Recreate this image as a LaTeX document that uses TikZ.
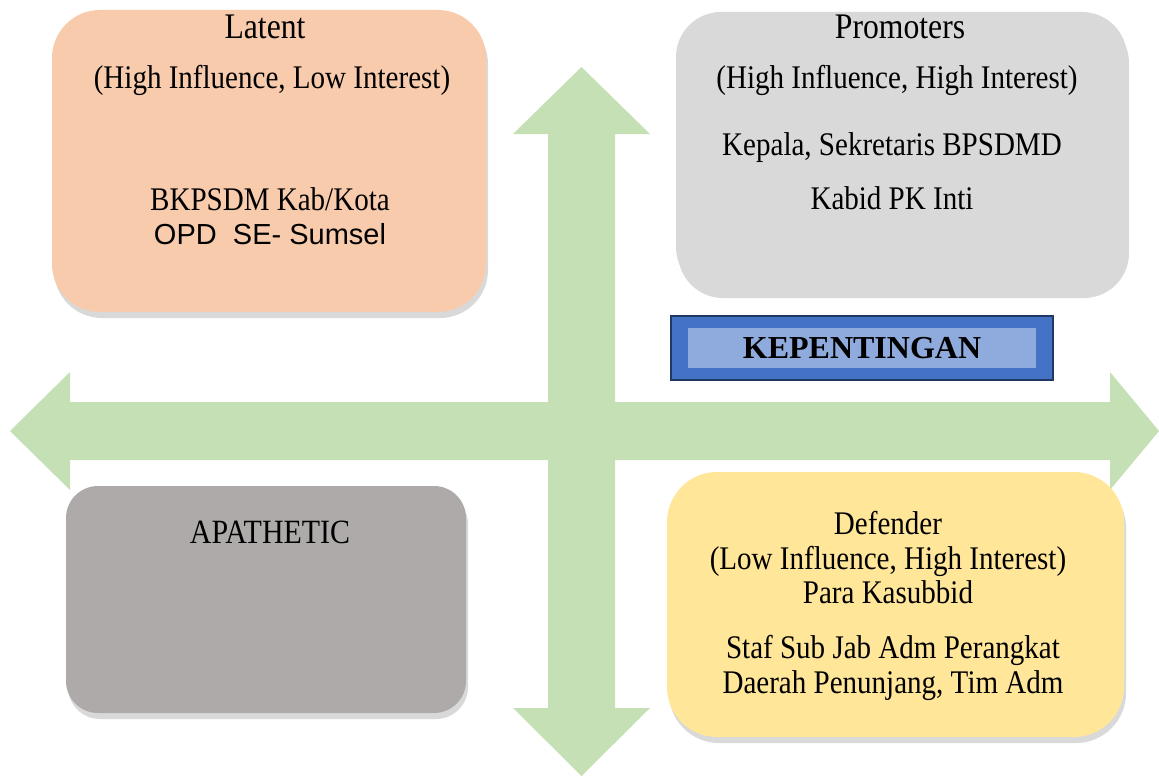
\documentclass[tikz,border=0pt]{standalone}
\usepackage{fontspec}
\setmainfont[FakeStretch=0.88]{Liberation Serif}
\newfontfamily\plainserif{Liberation Serif}
\newfontfamily\arialfont{Liberation Sans}
\usepackage{tikz}
\usetikzlibrary{positioning, shadows}
\definecolor{latentorange}{RGB}{248, 203, 173}
\definecolor{promotergray}{RGB}{217, 217, 217}
\definecolor{apathygray}{RGB}{174, 170, 170}
\definecolor{defenderyellow}{RGB}{255, 230, 153}
\definecolor{arrowgreen}{RGB}{197, 224, 180}
\definecolor{kepblue}{RGB}{68, 114, 196}
\definecolor{kepdark}{RGB}{32, 56, 100}
\definecolor{keplight}{RGB}{143, 170, 220}

\begin{document}
\begin{tikzpicture}[x=1pt, y=-1pt,
    quad/.style={rounded corners=#1, inner sep=0pt, drop shadow={opacity=0.3, shadow xshift=2pt, shadow yshift=-6pt}},
    txt/.style={font=\fontsize{33}{34.5}\selectfont, align=center, inner sep=0pt},
    title/.style={font=\fontsize{36}{38}\selectfont, inner sep=0pt}]
    \useasboundingbox (0,0) rectangle (1159,776);
    % arrows
    \fill[arrowgreen] (581.5,67) -- (650,134) -- (615,134) -- (615,708) -- (650,708) -- (581.5,776)
        -- (513,708) -- (548,708) -- (548,134) -- (513,134) -- cycle;
    \fill[arrowgreen] (10,431) -- (70,372) -- (70,402) -- (1110,402) -- (1110,372) -- (1159,431)
        -- (1110,490) -- (1110,460) -- (70,460) -- (70,490) -- cycle;
    % quadrants
    \node[quad=48pt, fill=latentorange, minimum width=434, minimum height=302] (latent) at (269,161) {};
    \node[quad=45pt, fill=promotergray, minimum width=451, minimum height=280] (promoters) at (901.5,152) {};
    \node[quad=32pt, fill=apathygray, minimum width=400, minimum height=227] (apathetic) at (266,599.5) {};
    \node[quad=50pt, fill=defenderyellow, minimum width=457, minimum height=265] (defender) at (895.5,604.5) {};
    \node[title] (latentname) at (265,27) {Latent};
    \node[txt] (latentrole) at (272,80) {(High Influence, Low Interest)};
    \node[txt] (latentmember) at (270,216) {BKPSDM Kab/Kota\\{\arialfont\fontsize{29}{34}\selectfont OPD\ \ SE- Sumsel}};
    \node[title] (promotersname) at (900,27) {Promoters};
    \node[txt] (promotersrole) at (897,80) {(High Influence, High Interest)};
    \node[txt] (promotersmember) at (892,148) {Kepala, Sekretaris BPSDMD};
    \node[txt] (promoterskabid) at (892,198) {Kabid PK Inti};
    \node[txt, font=\fontsize{34}{36}\selectfont] (apatheticname) at (270,532) {APATHETIC};
    \node[txt] (defendername) at (888,558) {Defender\\(Low Influence, High Interest)\\Para Kasubbid};
    \node[txt] (defendermember) at (893,668) {Staf Sub Jab Adm Perangkat\\Daerah Penunjang, Tim Adm};
    % label
    \node[fill=kepblue, draw=kepdark, line width=1.5pt, minimum width=382, minimum height=64] (kepouter) at (862,348) {};
    \node[fill=keplight, minimum width=348, minimum height=40, font=\plainserif\fontsize{32}{34}\selectfont\bfseries] (kepentingan) at (kepouter) {KEPENTINGAN};
\end{tikzpicture}
\end{document}
